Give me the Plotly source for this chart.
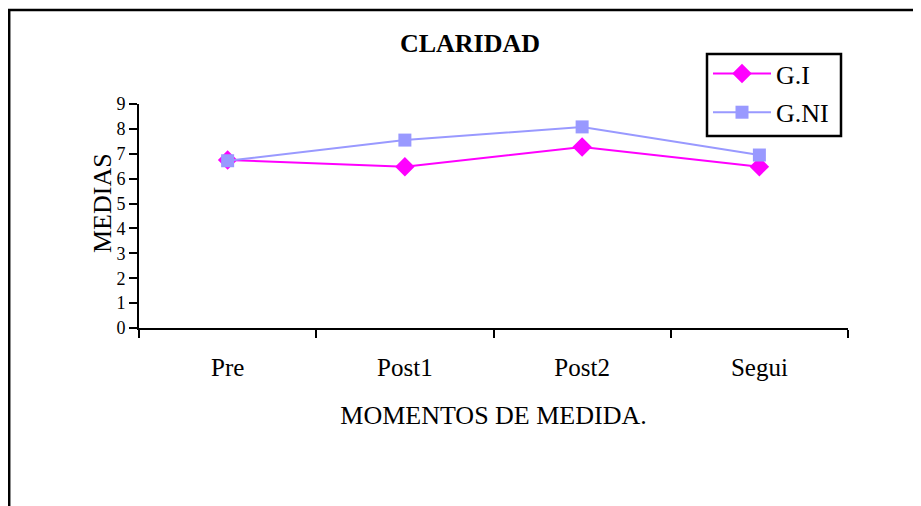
import plotly.graph_objects as go

categories = ["Pre", "Post1", "Post2", "Segui"]
gi_values = [6.75, 6.48, 7.27, 6.48]
gni_values = [6.72, 7.55, 8.08, 6.95]
y_ticks = [0, 1, 2, 3, 4, 5, 6, 7, 8, 9]

FONT = "Liberation Serif"
# page has an 8px body margin, so the figure is drawn 8px in from the window edge
W, H = 913, 498
L, R, T, B = 131, 73, 96, 178
pw, ph = W - L - R, H - T - B


def px(xp):
    return (xp - L) / pw


def py(yp):
    return (H - B - yp) / ph


fig = go.Figure()
fig.add_trace(go.Scatter(
    x=categories, y=gi_values, name="G.I", mode="lines+markers",
    line=dict(color="#FF00FF", width=2),
    marker=dict(symbol="diamond", size=15, color="#FF00FF"),
    legendgroup="a",
))
fig.add_trace(go.Scatter(
    x=categories, y=gni_values, name="G.NI", mode="lines+markers",
    line=dict(color="#9999FF", width=2),
    marker=dict(symbol="square", size=13, color="#9999FF"),
    legendgroup="b",
))

fig.update_layout(
    width=W, height=H,
    margin=dict(l=L, r=R, t=T, b=B, autoexpand=False),
    paper_bgcolor="white", plot_bgcolor="white",
    font=dict(family=FONT, color="black", size=18),
    title=dict(text="<b>CLARIDAD</b>", x=462 / W, xanchor="center",
               y=1 - 35 / H, yanchor="middle", xref="container", yref="container",
               font=dict(family=FONT, size=26, color="black")),
    showlegend=True,
    legend=dict(x=px(700), y=py(42), xanchor="left", yanchor="top",
                borderwidth=0, bgcolor="rgba(0,0,0,0)", itemwidth=58,
                font=dict(family=FONT, size=26), tracegroupgap=2,
                traceorder="grouped"),
    xaxis=dict(
        type="category", categoryorder="array", categoryarray=categories,
        range=[-0.5, 3.5], showgrid=False, zeroline=False,
        showline=True, linecolor="black", linewidth=2,
        ticks="outside", tickson="boundaries", ticklen=8, tickwidth=2, tickcolor="black",
        tickfont=dict(family=FONT, size=25), ticklabelstandoff=16,
        title=dict(text="MOMENTOS DE MEDIDA.", font=dict(family=FONT, size=26), standoff=26),
    ),
    yaxis=dict(
        range=[0, 9], tickvals=y_ticks, showgrid=False, zeroline=False,
        showline=True, linecolor="black", linewidth=2,
        ticks="outside", ticklen=8, tickwidth=2, tickcolor="black",
        tickfont=dict(family=FONT, size=18),
    ),
    annotations=[
        dict(text="MEDIAS", textangle=-90, xref="paper", yref="paper",
             x=px(94), y=py(195), xanchor="center", yanchor="middle",
             showarrow=False, font=dict(family=FONT, size=26, color="black")),
    ],
    shapes=[
        dict(type="rect", xref="paper", yref="paper",
             x0=px(1.2), x1=px(960), y0=py(2), y1=py(560),
             line=dict(color="black", width=2.5), fillcolor="rgba(0,0,0,0)", layer="below"),
        # legend frame
        dict(type="rect", xref="paper", yref="paper",
             x0=px(699), x1=px(833), y0=py(46), y1=py(128),
             line=dict(color="black", width=2.5), fillcolor="white", layer="above"),
    ],
)

fig.write_html("out.html")
